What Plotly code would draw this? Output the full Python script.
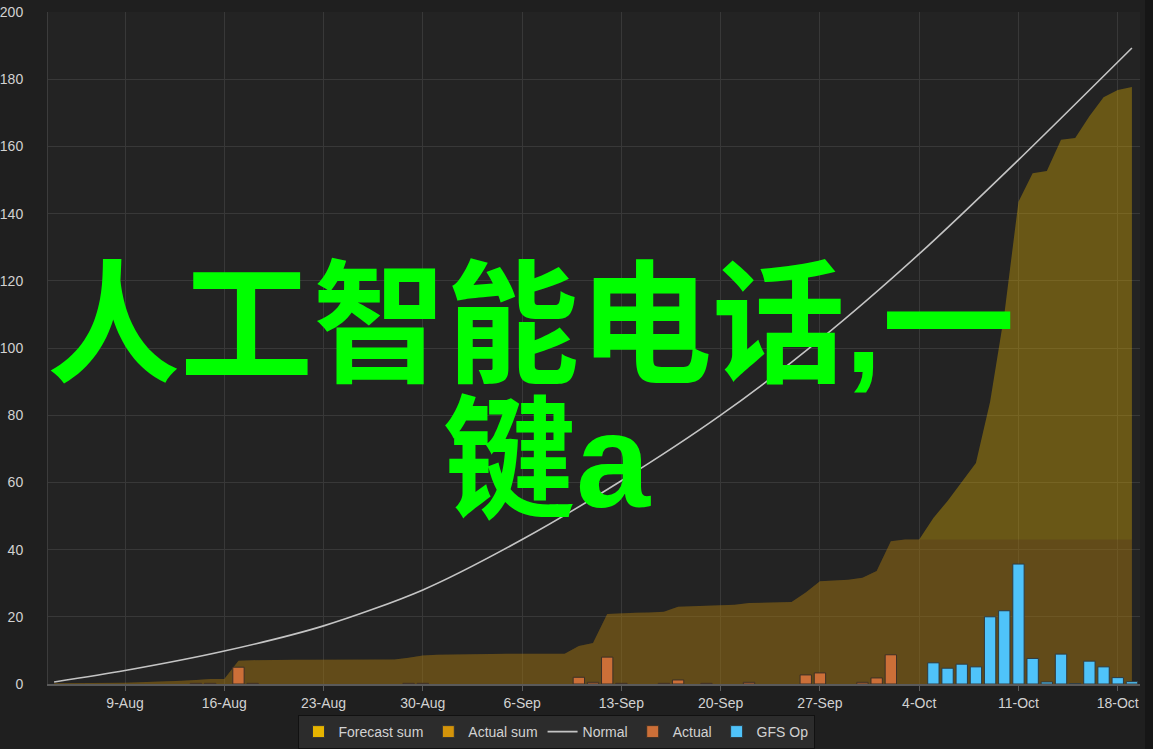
import pandas as pd
import plotly.graph_objects as go

# ---------------- data ----------------
days = pd.date_range("2015-08-04", "2015-10-19", freq="D")

actual_sum = [
    0.2, 0.2, 0.3, 0.3, 0.4, 0.4, 0.5, 0.6, 0.8, 1.0, 1.2, 1.5, 1.5, 6.9,
    7.1, 7.2, 7.2, 7.2, 7.2, 7.2, 7.2, 7.2, 7.2, 7.2, 7.3, 7.8, 8.5, 8.7,
    8.8, 8.9, 9.0, 9.0, 9.0, 9.0, 9.0, 9.0, 9.0, 11.3, 12.2, 20.8, 21.1, 21.2,
    21.3, 21.5, 23.0, 23.1, 23.4, 23.5, 23.6, 24.1, 24.2, 24.3, 24.4, 27.2,
    30.6, 30.8, 31.0, 31.6,
    33.6, 42.5, 43, 43, 43, 43, 43, 43, 43, 43, 43, 43, 43, 43, 43, 43, 43, 43, 43,
]
forecast_tail = [43, 49.4, 54.5, 60, 65.8, 84, 110, 143.5, 152, 152.7, 162,
                 162.5, 169, 174.6, 176.8, 177.7]          # 4-Oct .. 19-Oct
forecast_sum = actual_sum[:61] + forecast_tail

normal_dates = ["2015-08-04", "2015-08-09", "2015-08-16", "2015-08-23",
                "2015-08-30", "2015-09-06", "2015-09-13", "2015-09-20",
                "2015-09-27", "2015-10-04", "2015-10-11", "2015-10-19"]
normal_vals = [0.6, 4.0, 9.8, 17.3, 28, 43, 60.5, 80, 102.5, 128, 156, 189.3]

actual_dates = ["2015-08-14", "2015-08-15", "2015-08-17", "2015-08-18",
                "2015-08-29", "2015-08-30", "2015-09-10", "2015-09-11",
                "2015-09-12", "2015-09-13", "2015-09-16", "2015-09-17",
                "2015-09-19", "2015-09-22", "2015-09-26", "2015-09-27",
                "2015-09-30", "2015-10-01", "2015-10-02"]
actual_vals = [0.2, 0.2, 5.0, 0.2, 0.2, 0.2, 2.0, 0.5, 8.0, 0.2, 0.2, 1.2,
               0.2, 0.5, 2.7, 3.3, 0.5, 1.8, 8.7]

gfs_dates = pd.date_range("2015-10-05", "2015-10-19", freq="D")
gfs_vals = [6.3, 4.7, 5.9, 5.1, 20.0, 21.8, 35.7, 7.6, 0.6, 8.9, 0.1, 6.8,
            5.1, 1.9, 0.7]

tick_dates = pd.date_range("2015-08-09", "2015-10-18", freq="7D")
y_ticks = list(range(0, 201, 20))

title_line1 = "人工智能电话,一"
title_line2 = "键a"

# ---------------- styles ----------------
BAR_W = 0.8 * 86400000
FONT = "Liberation Sans, Arial, sans-serif"
TXT = "#d2d2d2"
L, T, PW, PH = 48, 12, 1092, 672   # plot area in px


def px_x(px):          # page px -> paper x
    return (px - L) / PW


def px_y(py):          # page px -> paper y
    return (T + PH - py) / PH


fig = go.Figure()

# areas (main subplot)
fig.add_trace(go.Scatter(x=days, y=forecast_sum, mode="lines", fill="tozeroy",
                         line=dict(width=0, color="rgba(230,180,0,0)"),
                         fillcolor="rgba(230,180,0,0.36)", showlegend=False,
                         hoverinfo="skip"))
fig.add_trace(go.Scatter(x=days, y=actual_sum, mode="lines", fill="tozeroy",
                         line=dict(width=0, color="rgba(0,0,0,0)"),
                         fillcolor="rgba(70,30,40,0.2)", showlegend=False,
                         hoverinfo="skip"))
fig.add_trace(go.Scatter(x=normal_dates, y=normal_vals, mode="lines",
                         line=dict(color="#c4c4c4", width=1.6, shape="spline",
                                   smoothing=0.8),
                         name="Normal", legendrank=3))

# bars on overlaid axes so they are drawn above the areas
fig.add_trace(go.Bar(x=actual_dates, y=actual_vals, width=BAR_W,
                     marker=dict(color="#cc6f38",
                                 line=dict(color="#3c3026", width=1)),
                     name="Actual", legendrank=4, xaxis="x2", yaxis="y2"))
fig.add_trace(go.Bar(x=gfs_dates, y=gfs_vals, width=BAR_W,
                     marker=dict(color="#4fc3fa",
                                 line=dict(color="#2e3a40", width=1)),
                     name="GFS Op", legendrank=5, xaxis="x2", yaxis="y2"))

# legend-only entries for the summed areas
fig.add_trace(go.Bar(x=[None], y=[None], name="Forecast sum", legendrank=1,
                     marker=dict(color="#e6b400", line=dict(color="#333", width=1)),
                     xaxis="x2", yaxis="y2"))
fig.add_trace(go.Bar(x=[None], y=[None], name="Actual sum", legendrank=2,
                     marker=dict(color="#d4940a", line=dict(color="#333", width=1)),
                     xaxis="x2", yaxis="y2"))

x_range = ["2015-08-03 13:40", "2015-10-19 13:40"]

fig.update_layout(
    width=1153, height=749,
    margin=dict(l=L, r=1153 - L - PW, t=T, b=749 - T - PH, autoexpand=False),
    paper_bgcolor="#1f1f1f",
    plot_bgcolor="#232323",
    barmode="overlay",
    font=dict(family=FONT, size=14, color=TXT),
    xaxis=dict(range=x_range, type="date", tickvals=tick_dates,
               tickformat="%-d-%b", showgrid=True, gridcolor="#383838",
               gridwidth=1, ticks="outside", ticklen=5, tickcolor="#5a5a5a",
               showline=True, linecolor="#5a5a5a", linewidth=2,
               tickfont=dict(size=14, color=TXT), zeroline=False,
               automargin=False),
    yaxis=dict(range=[0, 200], tickvals=y_ticks, showgrid=True,
               gridcolor="#383838", gridwidth=1, zeroline=False,
               showline=True, linecolor="#3c3c3c", linewidth=1,
               ticklabelstandoff=21, tickfont=dict(size=14, color=TXT),
               automargin=False),
    xaxis2=dict(range=x_range, type="date", overlaying="x", visible=False,
                matches="x"),
    yaxis2=dict(range=[0, 200], overlaying="y", visible=False),
    legend=dict(orientation="h", x=px_x(556), xanchor="center", y=px_y(732),
                yanchor="middle", bgcolor="#2c2c2c", bordercolor="#111111",
                borderwidth=1, font=dict(size=14, color=TXT),
                traceorder="normal", itemwidth=30),
    showlegend=True,
)

# darker strip at the right edge
fig.add_shape(type="rect", xref="paper", yref="paper",
              x0=px_x(1145), x1=px_x(1170), y0=px_y(770), y1=px_y(-10),
              fillcolor="#161616", line=dict(width=0), layer="above")

TITLE_FONT = dict(family="Liberation Sans, Noto Sans CJK SC", size=133,
                  color="#00ff00")
fig.add_annotation(text="<b>" + title_line1 + "</b>", xref="paper", yref="paper",
                   x=px_x(531), y=px_y(326), xanchor="center", yanchor="middle",
                   showarrow=False, font=TITLE_FONT)
fig.add_annotation(text="<b>" + title_line2 + "</b>", xref="paper", yref="paper",
                   x=px_x(547), y=px_y(461), xanchor="center", yanchor="middle",
                   showarrow=False, font=TITLE_FONT)

fig.write_html(
    "out.html",
    config={"displayModeBar": False},
    post_script="document.body.style.margin='0';"
                "document.body.style.overflow='hidden';"
                "document.body.style.background='#1f1f1f';",
)
